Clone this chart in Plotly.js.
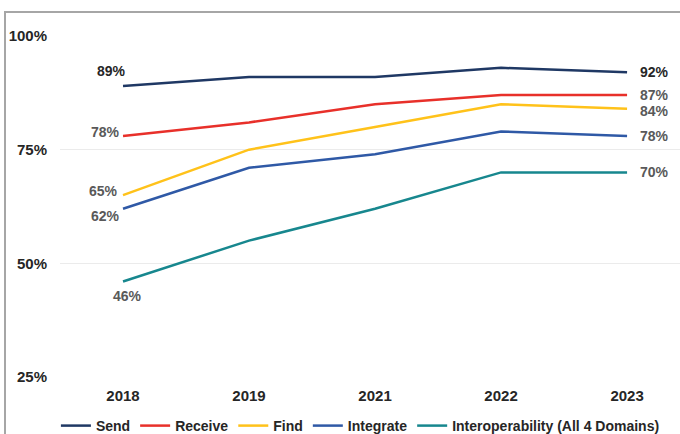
<!DOCTYPE html>
<html>
<head>
<meta charset="utf-8">
<script src="https://cdn.plot.ly/plotly-3.0.1.min.js"></script>
<style>
  html, body { margin: 0; padding: 0; background: #fff; }
  #chart { width: 680px; height: 434px; }
</style>
</head>
<body>
<div id="chart"></div>
<script>
const years = ['2018', '2019', '2021', '2022', '2023'];
const send = [89, 91, 91, 93, 92];
const receive = [78, 81, 85, 87, 87];
const find = [65, 75, 80, 85, 84];
const integrate = [62, 71, 74, 79, 78];
const interop = [46, 55, 62, 70, 70];
const yTicks = [25, 50, 75, 100];

const font = 'Liberation Sans, Arial, sans-serif';
const series = [
  { name: 'Send', vals: send, color: '#1f3864', txt: '#262626',
    first: { xanchor: 'center', xshift: -12, yshift: 15 }, last: { yshift: 0 } },
  { name: 'Receive', vals: receive, color: '#e8302a', txt: '#595959',
    first: { xanchor: 'right', xshift: -1, yshift: 4 }, last: { yshift: 0 } },
  { name: 'Find', vals: find, color: '#ffc21a', txt: '#595959',
    first: { xanchor: 'right', xshift: -3, yshift: 4 }, last: { yshift: -2 } },
  { name: 'Integrate', vals: integrate, color: '#2f59a6', txt: '#595959',
    first: { xanchor: 'right', xshift: -1, yshift: -7 }, last: { yshift: 0 } },
  { name: 'Interoperability (All 4 Domains)', vals: interop, color: '#17878e', txt: '#595959',
    first: { xanchor: 'center', xshift: 4, yshift: -14 }, last: { yshift: 0 } }
];

const traces = series.map(s => ({
  x: years, y: s.vals, name: s.name, type: 'scatter', mode: 'lines',
  line: { color: s.color, width: 2.5 }, hoverinfo: 'skip'
}));

const annotations = [];
series.forEach((s, k) => {
  const n = s.vals.length;
  annotations.push({
    x: 0, y: s.vals[0], xref: 'x', yref: 'y', text: '<b>' + s.vals[0] + '%</b>', showarrow: false,
    xanchor: s.first.xanchor, yanchor: 'middle', xshift: s.first.xshift, yshift: s.first.yshift,
    font: { family: font, size: 14, color: s.txt }
  });
  annotations.push({
    x: n - 1, y: s.vals[n - 1], xref: 'x', yref: 'y', text: '<b>' + s.vals[n - 1] + '%</b>', showarrow: false,
    xanchor: 'left', yanchor: 'middle', xshift: 11, yshift: s.last.yshift,
    font: { family: font, size: 14, color: k === 0 ? '#262626' : '#595959' }
  });
});

const layout = {
  width: 680, height: 434,
  margin: { l: 60, r: 0, t: 36, b: 57, autoexpand: false },
  paper_bgcolor: '#fff', plot_bgcolor: '#fff',
  font: { family: font, size: 14, color: '#262626' },
  showlegend: true,
  legend: {
    orientation: 'h', x: 0.53, xref: 'container', xanchor: 'center',
    y: -49 / 341, yref: 'paper', yanchor: 'middle',
    font: { family: font, size: 14, color: '#262626', weight: 'bold' },
    itemwidth: 30, tracegroupgap: 0
  },
  xaxis: {
    type: 'category', range: [-0.5, 4.42],
    showgrid: false, zeroline: false, showline: false, ticks: '',
    tickfont: { family: font, size: 15, color: '#262626', weight: 'bold' }, ticklabelstandoff: 8
  },
  yaxis: {
    range: [25, 100], tickvals: yTicks, ticktext: yTicks.map(v => v + '%'),
    showgrid: true, gridcolor: '#ebebeb', gridwidth: 1.5, zeroline: false, showline: false,
    tickfont: { family: font, size: 15, color: '#262626', weight: 'bold' }, ticklabelstandoff: 12
  },
  annotations: annotations,
  shapes: [{
    type: 'rect', xref: 'paper', yref: 'paper',
    x0: -55 / 620, x1: 1.2, y0: -0.5, y1: 1 + 24 / 341,
    line: { color: '#a6a6a6', width: 2 }, fillcolor: 'rgba(0,0,0,0)', layer: 'below'
  }]
};

Plotly.newPlot('chart', traces, layout, { displayModeBar: false, staticPlot: true });
</script>
</body>
</html>
